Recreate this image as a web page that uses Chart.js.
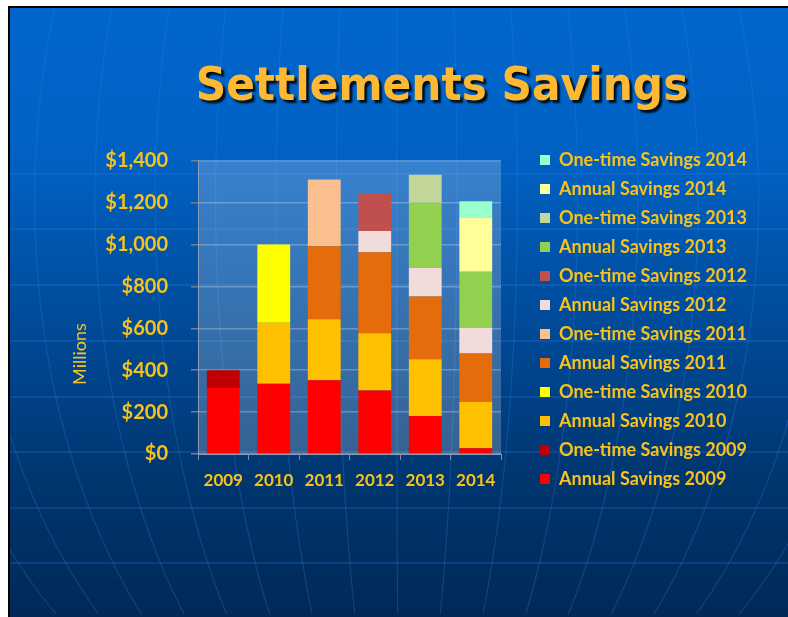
<!DOCTYPE html>
<html>
<head>
<meta charset="utf-8">
<script src="https://cdn.jsdelivr.net/npm/chart.js@4/dist/chart.umd.min.js"></script>
<style>
  html, body { margin: 0; padding: 0; background: #ffffff; }
  #wrap { position: relative; width: 788px; height: 617px; overflow: hidden; }
  #c { position: absolute; left: 0; top: 0; }
  #title {
    position: absolute; left: 141.5px; top: 61px; width: 600px;
    text-align: center; white-space: nowrap;
    font-family: "DejaVu Sans", sans-serif; font-weight: bold; font-size: 46px; line-height: 1;
    color: #FDB933;
    text-shadow: 3px 3px 2px rgba(0,0,0,0.85);
    transform: scaleX(0.92); transform-origin: 300px 50%;
  }
</style>
</head>
<body>
<div id="wrap">
  <canvas id="c" width="788" height="617"></canvas>
  <div id="title">Settlements Savings</div>
</div>
<script>
// ---- data (millions of dollars) ----
const years = ['2009', '2010', '2011', '2012', '2013', '2014'];
const annual2009  = [315, 335, 352, 303, 181, 27];
const oneTime2009 = [85, null, null, null, null, null];
const annual2010  = [null, 292, 291, 273, 271, 221];
const oneTime2010 = [null, 373, null, null, null, null];
const annual2011  = [null, null, 349, 387, 300, 232];
const oneTime2011 = [null, null, 318, null, null, null];
const annual2012  = [null, null, null, 102, 137, 121];
const oneTime2012 = [null, null, null, 176, null, null];
const annual2013  = [null, null, null, null, 310, 269];
const oneTime2013 = [null, null, null, null, 134, null];
const annual2014  = [null, null, null, null, null, 260];
const oneTime2014 = [null, null, null, null, null, 76];
const seriesNames = [
  'Annual Savings 2009', 'One-time Savings 2009',
  'Annual Savings 2010', 'One-time Savings 2010',
  'Annual Savings 2011', 'One-time Savings 2011',
  'Annual Savings 2012', 'One-time Savings 2012',
  'Annual Savings 2013', 'One-time Savings 2013',
  'Annual Savings 2014', 'One-time Savings 2014'
];
const seriesValues = [annual2009, oneTime2009, annual2010, oneTime2010, annual2011, oneTime2011,
  annual2012, oneTime2012, annual2013, oneTime2013, annual2014, oneTime2014];
const seriesColors = ['#FF0000', '#C00000', '#FFC000', '#FFFF00', '#E46C0A', '#FAC090',
  '#F2DCDB', '#C0504D', '#92D050', '#C4D79B', '#FFFF99', '#99FFCC'];
const yAxisTitle = 'Millions';

const GOLD = '#F8C21A';
const LEGEND_FONT = { family: 'Lato', size: 18, weight: 'bold' };

const bgPlugin = {
  id: 'slideBackground',
  beforeDraw(chart) {
    const ctx = chart.ctx;
    const W = chart.width, H = chart.height;
    ctx.save();
    ctx.fillStyle = '#ffffff';
    ctx.fillRect(0, 0, W, H);
    ctx.fillStyle = '#000000';
    ctx.fillRect(8, 6, W - 8, H - 6);
    const g = ctx.createLinearGradient(0, 8, 0, H);
    g.addColorStop(0, '#0066CC');
    g.addColorStop(0.25, '#0061C3');
    g.addColorStop(0.78, '#00356E');
    g.addColorStop(1, '#002957');
    ctx.fillStyle = g;
    ctx.fillRect(10, 8, W - 10, H - 8);
    ctx.beginPath();
    ctx.rect(10, 8, W - 10, H - 8);
    ctx.clip();
    ctx.strokeStyle = 'rgba(50,130,230,0.30)';
    ctx.lineWidth = 1.5;
    [174, 229, 285, 341, 397, 452, 508, 563].forEach(y => {
      ctx.beginPath(); ctx.moveTo(10, y); ctx.lineTo(W, y); ctx.stroke();
    });
    const R2 = 343647, yc = 200;
    const f = y => Math.sqrt(Math.max(0, R2 - (y - yc) * (y - yc)));
    const f480 = f(480);
    ctx.strokeStyle = 'rgba(50,130,230,0.28)';
    ctx.lineWidth = 1.2;
    for (let n = -8; n <= 8; n++) {
      const off = n * 53 - 3;
      ctx.beginPath();
      for (let y = 8; y <= H; y += 6) {
        const x = 400 + off * f(y) / f480;
        if (y === 8) ctx.moveTo(x, y); else ctx.lineTo(x, y);
      }
      ctx.stroke();
    }
    ctx.restore();
    const a = chart.chartArea;
    ctx.save();
    ctx.fillStyle = 'rgba(255,255,255,0.21)';
    ctx.fillRect(a.left, a.top, a.right - a.left, a.bottom - a.top);
    ctx.restore();
  },
  afterDraw(chart) {
    const ctx = chart.ctx;
    const a = chart.chartArea;
    ctx.save();
    ctx.translate(80, a.bottom - 100);
    ctx.rotate(-Math.PI / 2);
    ctx.fillStyle = GOLD;
    ctx.font = '18px Lato';
    ctx.textAlign = 'center';
    ctx.textBaseline = 'middle';
    ctx.fillText(yAxisTitle, 0, 0);
    ctx.restore();
  }
};

let chart = null;
function build() {
  if (chart) { chart.destroy(); chart = null; }
  // measure widest legend label to place the legend block
  const mctx = document.createElement('canvas').getContext('2d');
  mctx.font = 'bold 18px Lato';
  let w = 0;
  seriesNames.forEach(s => { w = Math.max(w, mctx.measureText(s).width); });
  const legendWidth = 11 + 10 + 9 + w + 10;
  const padRight = Math.max(0, 788 - 529 - legendWidth);

  const datasets = seriesNames.map((name, i) => ({
    label: name,
    data: seriesValues[i],
    backgroundColor: seriesColors[i],
    borderWidth: 0,
    stack: 'savings',
    xAxisID: 'x',
    yAxisID: 'y',
    barPercentage: 0.65,
    categoryPercentage: 1.0
  }));

  chart = new Chart(document.getElementById('c'), {
    type: 'bar',
    data: { labels: years, datasets: datasets },
    options: {
      responsive: false,
      devicePixelRatio: 1,
      animation: false,
      layout: { padding: { left: 105, right: padRight, top: 140, bottom: 115 } },
      plugins: {
        title: { display: false },
        tooltip: { enabled: false },
        legend: {
          display: true,
          position: 'right',
          align: 'start',
          reverse: true,
          maxWidth: 300,
          labels: {
            color: GOLD,
            font: LEGEND_FONT,
            boxWidth: 10,
            boxHeight: 10,
            padding: 11
          }
        }
      },
      scales: {
        x: {
          stacked: true,
          grid: { display: true, drawOnChartArea: false, drawTicks: true, tickLength: 6, color: '#7b8aa3', offset: true },
          border: { display: true, color: '#8e9cb3', width: 1 },
          ticks: { color: GOLD, font: { family: 'Lato', size: 17, weight: 'bold' }, padding: 10 },
          afterFit(scale) { scale.height = 48; }
        },
        y: {
          stacked: true,
          min: 0, max: 1400,
          grid: { color: 'rgba(255,255,255,0.26)', lineWidth: 1.5, tickLength: 7, tickColor: '#6f7f99' },
          border: { display: true, color: '#8e9cb3', width: 1 },
          ticks: {
            stepSize: 200, color: GOLD, font: { family: 'Lato', size: 20, weight: 'bold' }, padding: 23,
            callback: v => '$' + Number(v).toLocaleString('en-US')
          },
          afterFit(scale) { scale.width = 93; }
        },
        xTopGap: {
          type: 'linear', position: 'top', display: true, min: 0, max: 1,
          ticks: { display: false },
          grid: { display: false, drawTicks: false },
          border: { display: false },
          afterFit(scale) { scale.height = 20.7; }
        },
        yRightGap: {
          type: 'linear', position: 'right', display: true, min: 0, max: 1,
          ticks: { display: false },
          grid: { display: false, drawTicks: false },
          border: { display: false },
          afterFit(scale) { scale.width = 28; }
        }
      }
    },
    plugins: [bgPlugin]
  });
}
build();
if (document.fonts && document.fonts.load) {
  Promise.all([
    document.fonts.load('bold 18px Lato'),
    document.fonts.load('18px Lato'),
    document.fonts.load('bold 46px "DejaVu Sans"')
  ]).then(() => build(), () => {});
}
</script>
</body>
</html>
